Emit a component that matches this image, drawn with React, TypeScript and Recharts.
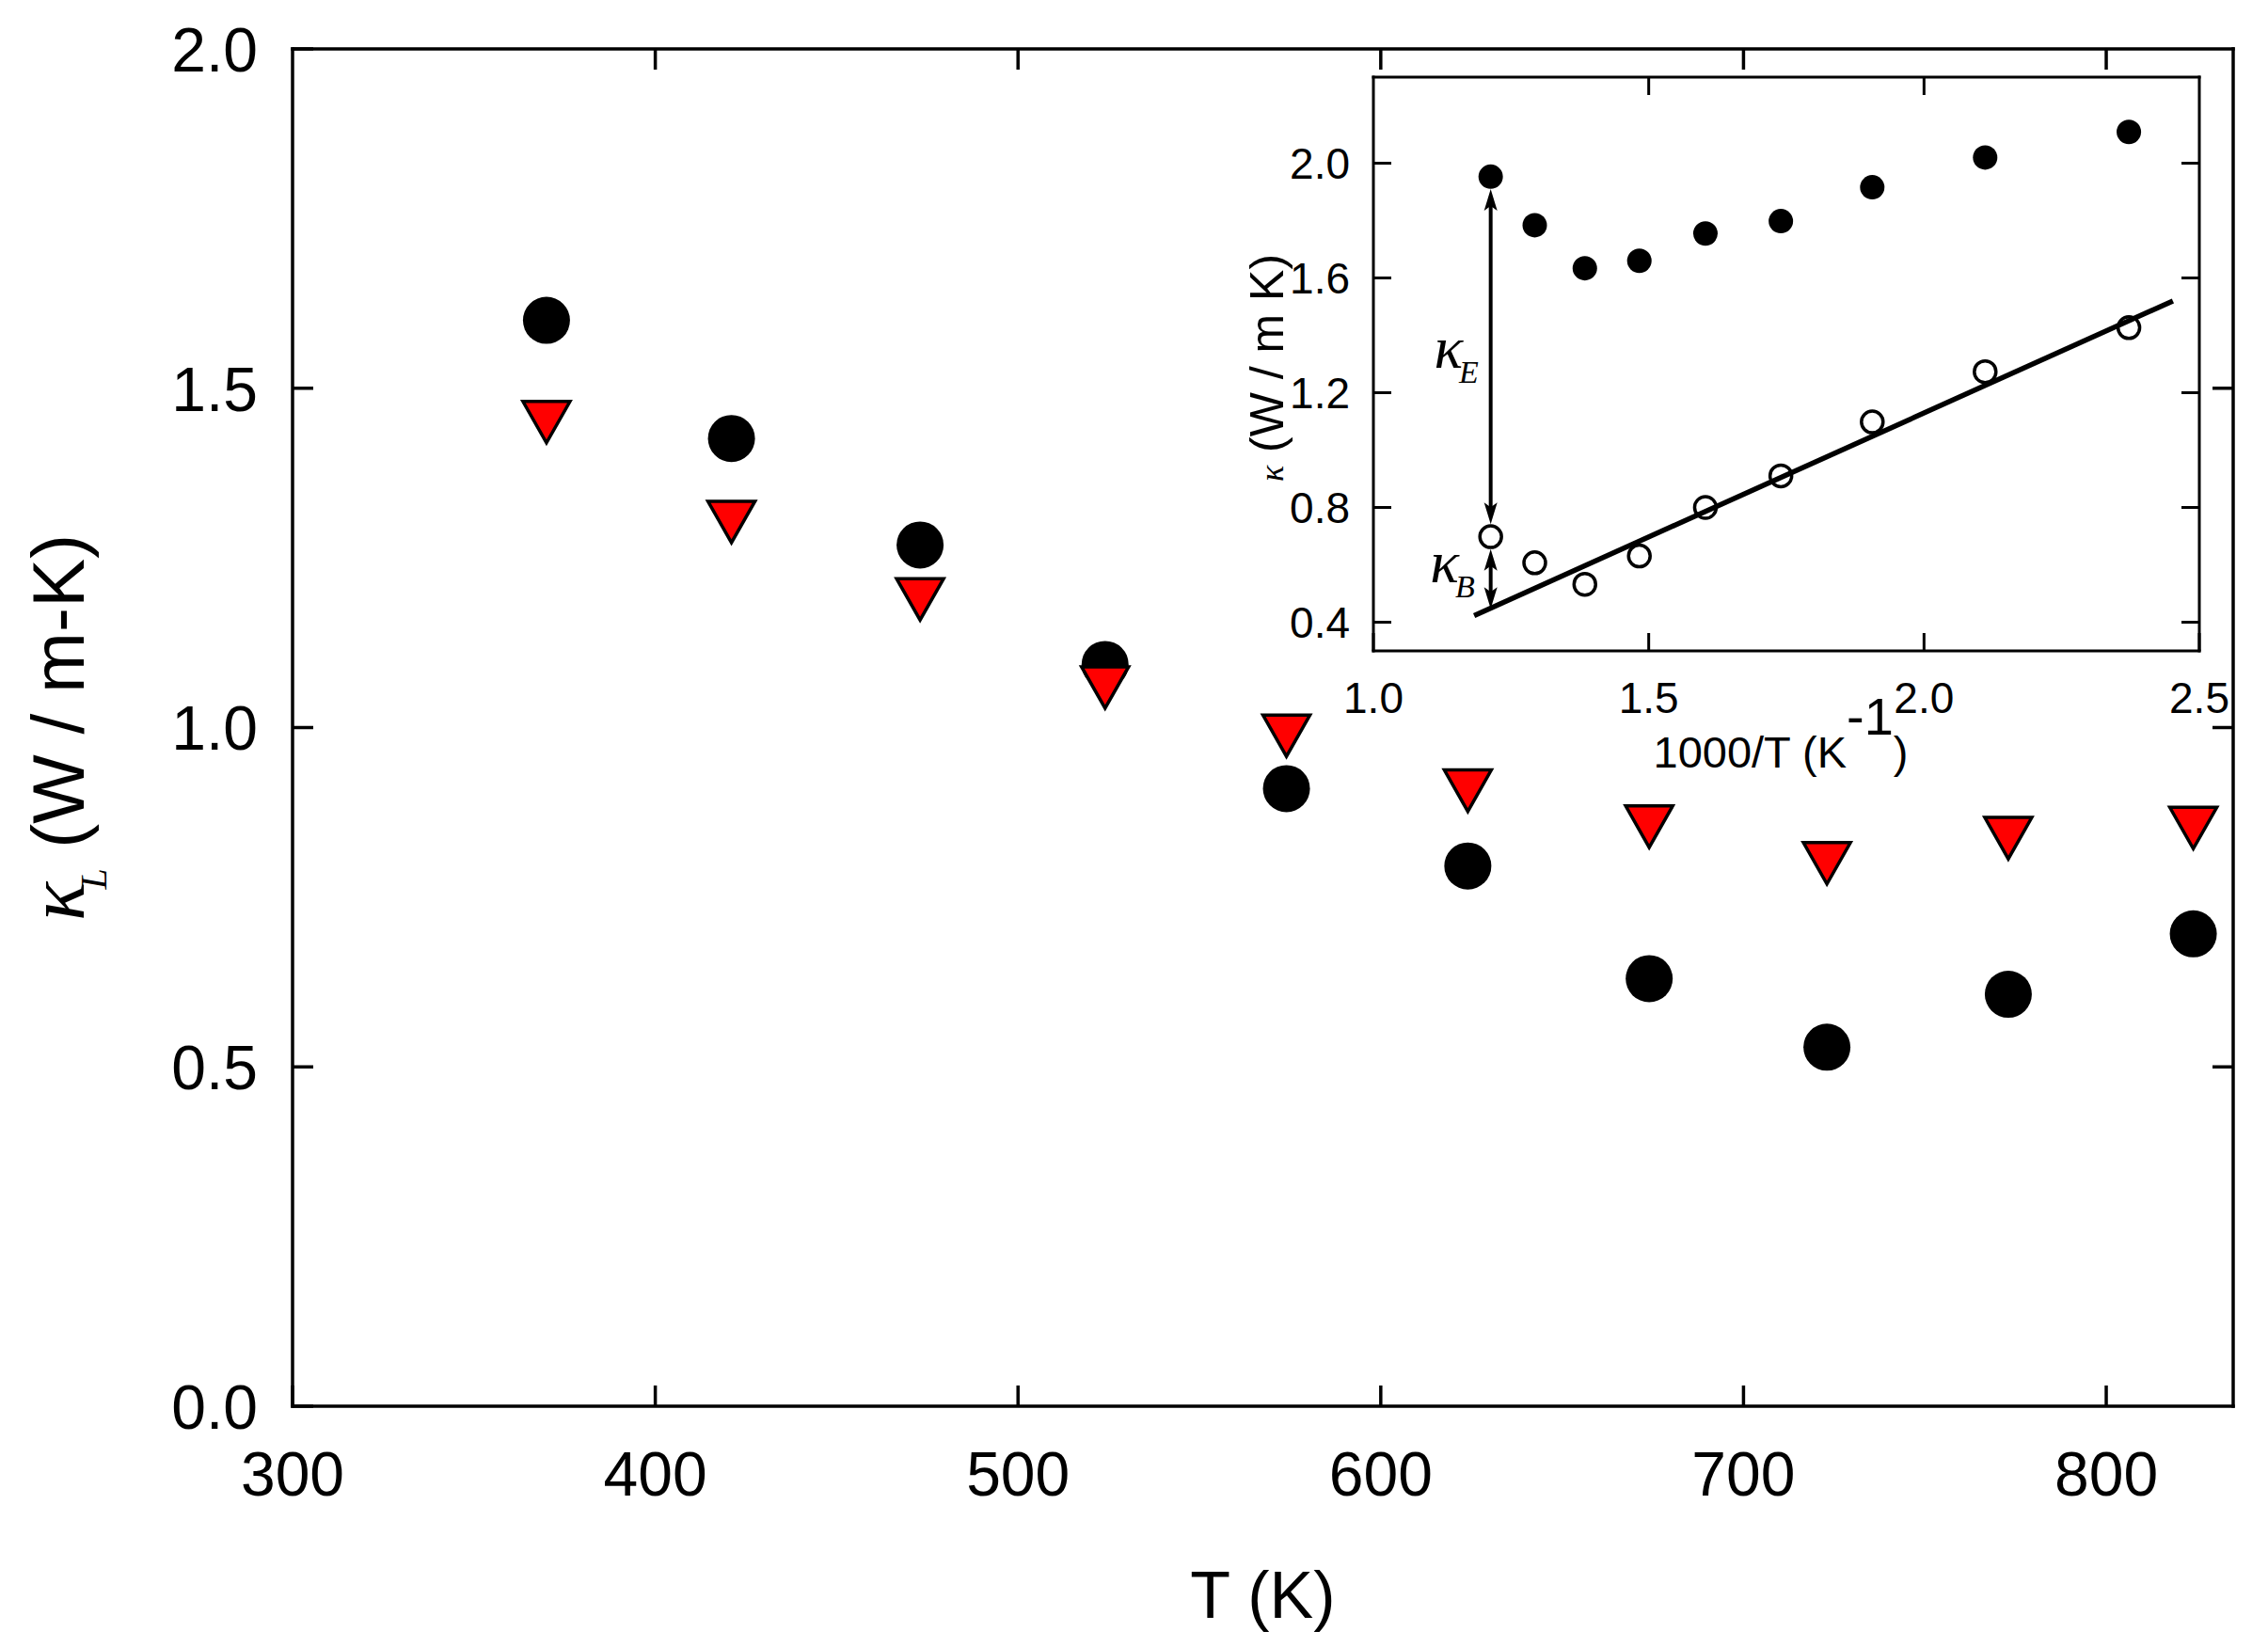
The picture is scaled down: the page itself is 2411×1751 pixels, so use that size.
import React from 'react';
import { ScatterChart, Scatter, XAxis, YAxis, ReferenceLine, ReferenceDot } from 'recharts';

// main panel: lattice thermal conductivity vs temperature
const T_K = [370, 421, 473, 524, 574, 624, 674, 723, 773, 824];
const KAPPA_L_CIRCLE = [1.6, 1.426, 1.269, 1.093, 0.91, 0.796, 0.63, 0.529, 0.607, 0.696];
const KAPPA_L_TRIANGLE = [1.45, 1.303, 1.189, 1.059, 0.988, 0.907, 0.854, 0.8, 0.837, 0.852];
const T_TICKS = [300, 400, 500, 600, 700, 800];
const KAPPA_TICKS = [0, 0.5, 1.0, 1.5, 2.0];

// inset: total and bipolar kappa vs 1000/T
const INV_T = [1.213, 1.293, 1.384, 1.483, 1.603, 1.74, 1.906, 2.111, 2.372];
const KAPPA_TOTAL = [1.953, 1.784, 1.634, 1.66, 1.755, 1.798, 1.916, 2.02, 2.109];
const KAPPA_BIPOLAR = [0.698, 0.607, 0.532, 0.631, 0.8, 0.91, 1.098, 1.273, 1.427];
const FIT_X = [1.183, 2.452];
const FIT_Y = [0.423, 1.52];
const KE_ARROW_Y = [1.91, 0.742];
const KB_ARROW_Y = [0.655, 0.447];
const INV_T_TICKS = [1.0, 1.5, 2.0, 2.5];
const INSET_KAPPA_TICKS = [0.4, 0.8, 1.2, 1.6, 2.0];

const SANS = 'Arial, "Liberation Sans", Helvetica, sans-serif';
const SERIF = '"Times New Roman", "Liberation Serif", serif';

const circleData = T_K.map((t, i) => ({ x: t, y: KAPPA_L_CIRCLE[i] }));
const triangleData = T_K.map((t, i) => ({ x: t, y: KAPPA_L_TRIANGLE[i] }));
const totalData = INV_T.map((v, i) => ({ x: v, y: KAPPA_TOTAL[i] }));
const bipolarData = INV_T.map((v, i) => ({ x: v, y: KAPPA_BIPOLAR[i] }));

type Side = 'bottom' | 'top' | 'left' | 'right';

// inward tick marks, optional label
function makeTick(side: Side, len: number, sw: number, label?: { size: number; offset: number; digits: number }) {
  return (props: any) => {
    const { x, y, payload } = props;
    let line: any;
    if (side === 'bottom') line = { x1: x, y1: y, x2: x, y2: y - len };
    else if (side === 'top') line = { x1: x, y1: y, x2: x, y2: y + len };
    else if (side === 'left') line = { x1: x, y1: y, x2: x + len, y2: y };
    else line = { x1: x, y1: y, x2: x - len, y2: y };
    const text = label ? payload.value.toFixed(label.digits) : '';
    return (
      <g>
        <line {...line} stroke="#000" strokeWidth={sw} />
        {label && side === 'bottom' && (
          <text x={x} y={y + label.offset} textAnchor="middle" fontFamily={SANS} fontSize={label.size} fill="#000">
            {text}
          </text>
        )}
        {label && side === 'left' && (
          <text x={x - label.offset} y={y + label.size * 0.36} textAnchor="end" fontFamily={SANS} fontSize={label.size} fill="#000">
            {text}
          </text>
        )}
      </g>
    );
  };
}

const CircleMarker = (p: any) => <circle cx={p.cx} cy={p.cy} r={25} fill="#000" />;
const TriangleMarker = (p: any) => (
  <polygon
    points={`${p.cx - 25},${p.cy - 22} ${p.cx + 25},${p.cy - 22} ${p.cx},${p.cy + 22}`}
    fill="#ff0000"
    stroke="#000"
    strokeWidth={3.5}
    strokeLinejoin="miter"
  />
);
const FilledSmall = (p: any) => <circle cx={p.cx} cy={p.cy} r={13} fill="#000" />;
const OpenSmall = (p: any) => <circle cx={p.cx} cy={p.cy} r={11.5} fill="none" stroke="#000" strokeWidth={3.5} />;
// keeps the mirrored frame axes fed with data so their ticks get drawn
const NoMarker = () => <g />;

const DoubleArrow = (p: any) => {
  const top = Math.min(p.y1, p.y2);
  const bot = Math.max(p.y1, p.y2);
  const head = 23;
  const half = 7;
  const x = p.x1;
  return (
    <g>
      <line x1={x} y1={top + 10} x2={x} y2={bot - 10} stroke="#000" strokeWidth={4} />
      <polygon points={`${x},${top} ${x - half},${top + head} ${x},${top + head - 5} ${x + half},${top + head}`} fill="#000" />
      <polygon points={`${x},${bot} ${x - half},${bot - head} ${x},${bot - head + 5} ${x + half},${bot - head}`} fill="#000" />
    </g>
  );
};

const kappaLabel = (sub: string) => (p: any) => (
  <text x={p.cx} y={p.cy} fontFamily={SERIF} fontStyle="italic" fill="#000">
    <tspan fontSize={64}>κ</tspan>
    <tspan fontSize={34} dy={16} dx={-4}>
      {sub}
    </tspan>
  </text>
);

const renderTTitle = (props: any) => {
  const vb = props.viewBox || { x: 311, y: 1495, width: 2063, height: 256 };
  return (
    <text x={vb.x + vb.width / 2} y={vb.y + 225} textAnchor="middle" fontFamily={SANS} fontSize={70} fill="#000">
      T (K)
    </text>
  );
};

const renderKappaLTitle = (props: any) => {
  const vb = props.viewBox || { x: 0, y: 52, width: 311, height: 1443 };
  const cx = vb.x + 89;
  const cy = vb.y + vb.height / 2;
  return (
    <text x={cx} y={cy} transform={`rotate(-90 ${cx} ${cy})`} textAnchor="middle" fontFamily={SANS} fontSize={78} fill="#000">
      <tspan fontFamily={SERIF} fontStyle="italic" fontSize={86}>κ</tspan>
      <tspan fontFamily={SERIF} fontStyle="italic" fontSize={40} dy={24} dx={-8}>L</tspan>
      <tspan dy={-24}>{'\u00A0(W / m-K)'}</tspan>
    </text>
  );
};

const renderInvTTitle = (props: any) => {
  const vb = props.viewBox || { x: 160, y: 632, width: 878, height: 168 };
  return (
    <text x={vb.x + vb.width / 2 - 6} y={vb.y + 124} textAnchor="middle" fontFamily={SANS} fontSize={47} fill="#000">
      1000/T (K
      <tspan fontSize={56} dy={-35}>-1</tspan>
      <tspan dy={35}>)</tspan>
    </text>
  );
};

const renderInsetKappaTitle = (props: any) => {
  const vb = props.viewBox || { x: 0, y: 22, width: 160, height: 610 };
  const cx = vb.x + 64;
  const cy = vb.y + vb.height / 2 + 4;
  return (
    <text x={cx} y={cy} transform={`rotate(-90 ${cx} ${cy})`} textAnchor="middle" fontFamily={SANS} fontSize={50} fill="#000">
      <tspan fontFamily={SERIF} fontStyle="italic" fontSize={36}>κ</tspan>
      <tspan>{'\u00A0(W / m K)'}</tspan>
    </text>
  );
};

const MAIN_AXIS = { stroke: '#000', strokeWidth: 3.5, strokeLinecap: 'square' as const };
const INSET_AXIS = { stroke: '#000', strokeWidth: 3, strokeLinecap: 'square' as const };

export default function App() {
  return (
    <div style={{ position: 'absolute', left: 0, top: 0, width: 2411, height: 1751, background: '#fff' }}>
      <div style={{ position: 'absolute', left: 0, top: 0 }}>
        <ScatterChart width={2411} height={1751} margin={{ top: 51, right: 0, bottom: 0, left: 0 }}>
          <XAxis
            type="number"
            dataKey="x"
            domain={[300, 835]}
            ticks={T_TICKS}
            interval={0}
            height={256}
            tickSize={0}
            tickMargin={0}
            tickLine={false}
            axisLine={MAIN_AXIS}
            tick={makeTick('bottom', 22, 3.5, { size: 66, offset: 95, digits: 0 })}
            label={{ content: renderTTitle }}
          />
          <XAxis
            xAxisId="top"
            orientation="top"
            type="number"
            dataKey="x"
            domain={[300, 835]}
            ticks={[400, 500, 600, 700, 800]}
            interval={0}
            height={1}
            tickSize={0}
            tickMargin={0}
            tickLine={false}
            axisLine={MAIN_AXIS}
            tick={makeTick('top', 22, 3.5)}
          />
          <YAxis
            type="number"
            dataKey="y"
            domain={[0, 2]}
            ticks={KAPPA_TICKS}
            interval={0}
            width={311}
            tickSize={0}
            tickMargin={0}
            tickLine={false}
            axisLine={MAIN_AXIS}
            tick={makeTick('left', 22, 3.5, { size: 66, offset: 37, digits: 1 })}
            label={{ content: renderKappaLTitle }}
          />
          <YAxis
            yAxisId="right"
            orientation="right"
            type="number"
            dataKey="y"
            domain={[0, 2]}
            ticks={[0.5, 1.0, 1.5]}
            interval={0}
            width={37}
            tickSize={0}
            tickMargin={0}
            tickLine={false}
            axisLine={MAIN_AXIS}
            tick={makeTick('right', 22, 3.5)}
          />
          <Scatter xAxisId="top" yAxisId="right" data={circleData} shape={NoMarker} isAnimationActive={false} />
          <Scatter data={circleData} shape={CircleMarker} isAnimationActive={false} />
          <Scatter data={triangleData} shape={TriangleMarker} isAnimationActive={false} />
        </ScatterChart>
      </div>

      <div style={{ position: 'absolute', left: 1300, top: 60 }}>
        <ScatterChart width={1100} height={800} margin={{ top: 21, right: 0, bottom: 0, left: 0 }}>
          <XAxis
            type="number"
            dataKey="x"
            domain={[1, 2.5]}
            ticks={INV_T_TICKS}
            interval={0}
            height={168}
            tickSize={0}
            tickMargin={0}
            tickLine={false}
            axisLine={INSET_AXIS}
            tick={makeTick('bottom', 19, 3, { size: 46, offset: 66, digits: 1 })}
            label={{ content: renderInvTTitle }}
          />
          <XAxis
            xAxisId="top"
            orientation="top"
            type="number"
            dataKey="x"
            domain={[1, 2.5]}
            ticks={[1.5, 2.0]}
            interval={0}
            height={1}
            tickSize={0}
            tickMargin={0}
            tickLine={false}
            axisLine={INSET_AXIS}
            tick={makeTick('top', 19, 3)}
          />
          <YAxis
            type="number"
            dataKey="y"
            domain={[0.3, 2.3]}
            ticks={INSET_KAPPA_TICKS}
            interval={0}
            width={160}
            tickSize={0}
            tickMargin={0}
            tickLine={false}
            axisLine={INSET_AXIS}
            tick={makeTick('left', 19, 3, { size: 46, offset: 25, digits: 1 })}
            label={{ content: renderInsetKappaTitle }}
          />
          <YAxis
            yAxisId="right"
            orientation="right"
            type="number"
            dataKey="y"
            domain={[0.3, 2.3]}
            ticks={INSET_KAPPA_TICKS}
            interval={0}
            width={62}
            tickSize={0}
            tickMargin={0}
            tickLine={false}
            axisLine={INSET_AXIS}
            tick={makeTick('right', 19, 3)}
          />
          <Scatter xAxisId="top" yAxisId="right" data={totalData} shape={NoMarker} isAnimationActive={false} />
          <ReferenceLine
            segment={[
              { x: FIT_X[0], y: FIT_Y[0] },
              { x: FIT_X[1], y: FIT_Y[1] },
            ]}
            stroke="#000"
            strokeWidth={5.5}
          />
          <ReferenceLine
            segment={[
              { x: INV_T[0], y: KE_ARROW_Y[0] },
              { x: INV_T[0], y: KE_ARROW_Y[1] },
            ]}
            shape={DoubleArrow}
          />
          <ReferenceLine
            segment={[
              { x: INV_T[0], y: KB_ARROW_Y[0] },
              { x: INV_T[0], y: KB_ARROW_Y[1] },
            ]}
            shape={DoubleArrow}
          />
          <ReferenceDot x={1.11} y={1.288} r={0} shape={kappaLabel('E')} />
          <ReferenceDot x={1.103} y={0.54} r={0} shape={kappaLabel('B')} />
          <Scatter data={totalData} shape={FilledSmall} isAnimationActive={false} />
          <Scatter data={bipolarData} shape={OpenSmall} isAnimationActive={false} />
        </ScatterChart>
      </div>
    </div>
  );
}
